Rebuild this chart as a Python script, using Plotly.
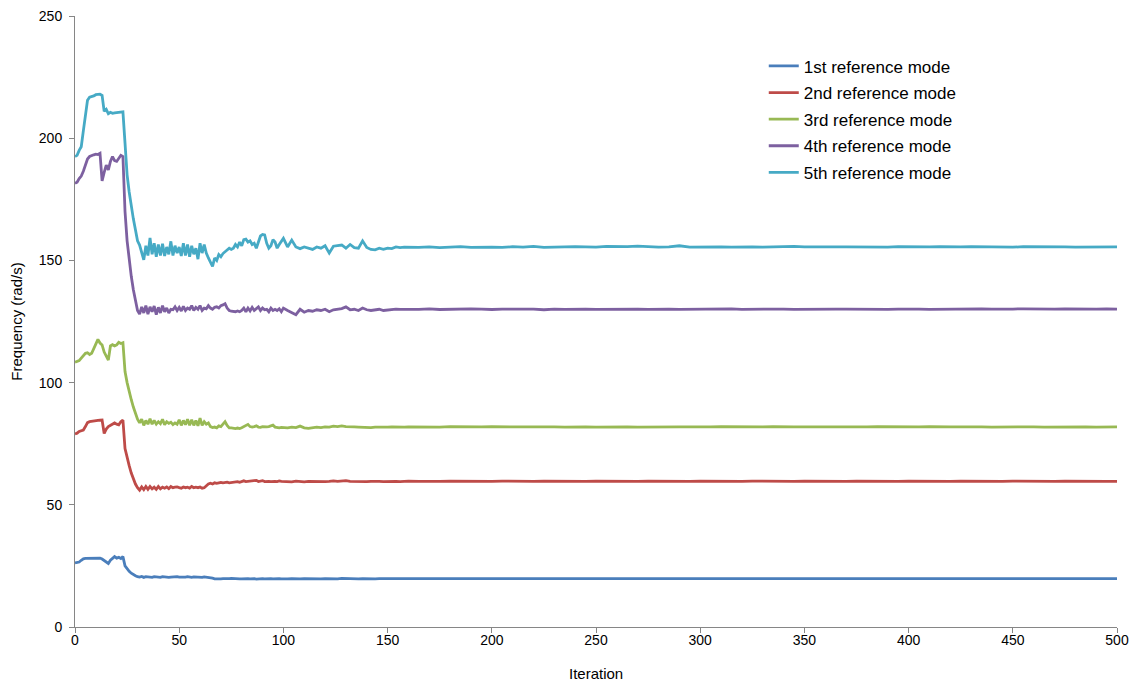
import plotly.graph_objects as go

ITER = list(range(0, 101)) + list(range(102, 161, 2)) + list(range(165, 501, 5))

MODE5 = [
    192.5, 193.0, 195.0, 196.5, 203.0, 210.0, 215.5, 216.8, 217.0, 217.3,
    217.8, 218.0, 218.0, 217.5, 211.0, 211.8, 210.0, 210.6, 210.2, 210.4,
    210.5, 210.3, 210.6, 210.8, 198.0, 185.0, 178.0, 172.0, 167.0, 162.5,
    158.0, 156.3, 153.5, 150.2, 156.0, 152.0, 159.2, 152.5, 157.0, 151.5,
    156.5, 152.0, 156.8, 151.8, 155.5, 152.5, 157.8, 152.0, 156.0, 153.0,
    155.5, 151.8, 157.0, 152.0, 156.5, 151.5, 156.0, 152.5, 155.0, 150.5,
    157.0, 153.0, 156.5, 153.0, 151.0, 149.0, 147.5, 151.0, 150.0, 152.4,
    151.5, 152.8, 153.5, 154.5, 155.0, 154.5, 155.0, 156.5, 155.5, 157.5,
    156.0, 158.5, 158.7, 157.5, 158.0, 156.5, 157.0, 155.0, 158.0, 160.0,
    160.6, 160.4, 157.0, 155.0, 156.0, 158.5, 157.5, 155.0, 156.5, 158.0,
    159.0,
    155.5, 158.3, 155.5, 154.8, 155.5, 155.0, 154.5, 155.5, 155.0, 156.0,
    153.0, 155.8, 156.0, 156.3, 155.0, 156.5, 155.2, 155.0, 158.0, 155.3,
    154.5, 154.3, 155.0, 154.5, 155.0, 154.8, 155.5, 155.2, 155.4, 155.3,
    155.3, 155.5, 155.2, 155.4, 155.6, 155.3, 155.5, 155.4, 155.3, 155.6,
    155.4, 155.7, 155.3, 155.5, 155.4, 155.6, 155.5, 155.4, 155.7, 155.5,
    155.6, 155.8, 155.5, 155.4, 155.5, 156.0, 155.4, 155.5, 155.3, 155.5,
    155.4, 155.6, 155.5, 155.4, 155.6, 155.5, 155.7, 155.5, 155.4, 155.6,
    155.5, 155.5, 155.4, 155.6, 155.5, 155.4, 155.6, 155.5, 155.4, 155.5,
    155.6, 155.4, 155.5, 155.6, 155.5, 155.3, 155.5, 155.4, 155.6, 155.5,
    155.4, 155.6, 155.5, 155.4, 155.5, 155.6, 155.4, 155.5,
]

MODE4 = [
    181.5, 182.0, 183.5, 184.5, 186.5, 189.5, 191.5, 192.5, 193.0, 193.2,
    193.5, 193.3, 193.8, 182.5, 186.0, 189.0, 187.0, 190.5, 192.5, 190.8,
    190.5, 192.0, 193.0, 192.5, 170.0, 158.0, 150.0, 143.5, 138.0, 133.0,
    129.5, 128.0, 131.0, 128.5, 131.5, 128.0, 131.0, 129.0, 131.3, 127.8,
    130.8, 128.5, 131.5, 129.0, 130.5, 128.5, 130.0, 129.8, 131.0, 129.5,
    130.8, 129.3, 131.2, 129.5, 130.5, 130.0, 131.5, 129.5, 130.8, 130.0,
    131.5, 129.5, 130.5, 130.2, 131.5, 130.5, 130.0, 130.8, 131.0, 130.5,
    131.5, 131.8, 132.3, 130.5, 129.5, 129.2, 129.0, 129.0, 129.3, 129.0,
    129.5, 130.5, 129.0, 130.5, 129.3, 130.8, 129.5, 130.3, 131.0, 129.5,
    130.5, 129.8, 130.0, 129.0, 130.5, 129.5, 130.0, 129.5, 130.2, 129.0,
    130.5,
    129.5, 128.5, 127.8, 130.0, 128.8, 129.5, 129.2, 129.8, 129.5, 130.0,
    129.0, 129.8, 130.0, 130.3, 131.0, 129.8, 130.0, 129.5, 130.5, 129.8,
    129.5, 129.6, 130.0, 129.5, 129.8, 130.0, 130.1, 130.0, 130.1, 130.0,
    130.0, 130.2, 129.9, 130.1, 130.0, 130.2, 130.1, 129.9, 130.1, 130.2,
    130.0, 130.1, 129.8, 130.1, 130.0, 130.2, 130.1, 130.0, 130.1, 130.2,
    130.0, 130.1, 130.0, 130.2, 130.1, 130.0, 130.1, 130.2, 130.0, 130.1,
    130.2, 130.0, 130.1, 130.0, 130.2, 130.1, 130.0, 130.1, 130.2, 130.0,
    130.1, 130.1, 130.0, 130.2, 130.1, 130.0, 130.1, 130.2, 130.1, 130.0,
    130.1, 130.2, 130.0, 130.1, 130.2, 130.1, 130.0, 130.1, 130.2, 130.1,
    130.0, 130.1, 130.2, 130.1, 130.0, 130.1, 130.2, 130.1,
]

MODE3 = [
    108.3, 108.6, 109.0, 110.0, 111.2, 112.0, 112.2, 111.5, 112.0, 114.0,
    116.0, 117.7, 116.2, 115.4, 112.5, 111.0, 109.2, 115.0, 115.5, 115.0,
    115.4, 116.5, 116.0, 116.3, 104.5, 100.0, 96.0, 93.0, 90.0, 87.5,
    85.0, 83.5, 85.0, 82.5, 84.5, 83.0, 85.2, 83.0, 84.5, 83.0,
    84.0, 83.2, 85.0, 82.8, 84.0, 83.3, 83.8, 82.8, 83.5, 83.0,
    84.8, 82.5, 84.5, 82.8, 85.0, 82.5, 84.8, 82.5, 84.5, 82.3,
    85.5, 82.5, 84.0, 83.0, 83.5, 82.0, 81.6, 81.8, 81.5, 82.3,
    82.0, 83.0, 84.0, 82.5, 81.5, 81.5, 81.3, 81.2, 81.4, 81.2,
    81.5, 82.0, 82.3, 82.9, 82.0, 81.8, 82.0, 82.3, 81.8, 81.7,
    82.0, 81.8, 81.9, 82.0, 82.3, 82.6, 81.8, 81.6, 81.5, 81.7,
    81.6,
    81.5, 81.8, 81.6, 82.2, 81.5, 81.3, 81.7, 81.8, 81.6, 81.9,
    81.8, 82.2, 82.0, 82.3, 82.0, 81.8, 81.9, 81.8, 81.7, 81.8,
    81.6, 81.8, 81.7, 81.9, 81.8, 81.9, 81.8, 81.9, 81.8, 81.9,
    81.8, 81.9, 81.8, 82.0, 81.9, 81.8, 81.9, 82.0, 81.8, 81.9,
    81.9, 82.0, 81.8, 81.9, 81.8, 82.0, 81.9, 81.8, 81.9, 82.0,
    81.9, 81.8, 81.9, 82.0, 81.8, 81.9, 81.9, 81.8, 81.9, 82.0,
    81.9, 81.8, 81.9, 81.9, 82.0, 81.8, 81.9, 81.9, 81.8, 82.0,
    81.9, 81.9, 81.8, 81.9, 82.0, 81.9, 81.8, 81.9, 81.9, 82.0,
    81.8, 81.9, 81.9, 82.0, 81.9, 81.8, 81.9, 81.9, 82.0, 81.9,
    81.8, 81.9, 81.9, 82.0, 81.9, 81.8, 81.9, 81.9,
]

MODE2 = [
    79.0, 79.3, 80.0, 80.3, 80.6, 82.0, 83.6, 84.0, 84.2, 84.3,
    84.4, 84.5, 84.6, 84.7, 79.2, 81.0, 82.0, 82.5, 83.2, 83.5,
    83.0, 82.7, 84.0, 84.7, 73.0, 69.0, 66.0, 63.0, 60.5, 58.5,
    57.0, 56.0, 57.3, 56.2, 57.5, 56.3, 57.5, 56.5, 57.2, 56.3,
    57.5, 56.5, 57.2, 56.8, 57.3, 56.6, 57.5, 57.0, 57.2, 57.3,
    57.0, 56.8, 57.3, 57.0, 57.2, 56.8, 57.5, 57.0, 57.2, 57.0,
    57.3, 56.8, 57.0, 57.8, 58.5, 58.8, 58.5, 59.0, 58.8, 59.0,
    59.2, 59.0, 59.1, 59.3, 59.0, 59.2, 59.4, 59.3, 59.5, 59.2,
    59.4, 59.8, 59.5, 59.6, 59.5, 59.8, 59.6, 60.0, 59.5, 59.7,
    59.9, 59.5, 59.7, 59.6, 59.5, 59.7, 59.6, 59.5, 59.8, 59.6,
    59.5,
    59.6, 59.4, 59.7, 59.5, 59.4, 59.6, 59.5, 59.7, 59.6, 59.5,
    59.6, 59.8, 59.6, 59.7, 59.9, 59.6, 59.5, 59.7, 59.6, 59.5,
    59.6, 59.7, 59.6, 59.5, 59.6, 59.7, 59.6, 59.5, 59.6, 59.7,
    59.6, 59.5, 59.6, 59.7, 59.6, 59.6, 59.5, 59.6, 59.7, 59.6,
    59.5, 59.6, 59.7, 59.6, 59.6, 59.5, 59.6, 59.7, 59.6, 59.6,
    59.5, 59.6, 59.7, 59.6, 59.6, 59.5, 59.6, 59.7, 59.6, 59.6,
    59.5, 59.6, 59.7, 59.6, 59.6, 59.5, 59.6, 59.7, 59.6, 59.6,
    59.5, 59.6, 59.7, 59.6, 59.6, 59.5, 59.6, 59.7, 59.6, 59.6,
    59.5, 59.6, 59.7, 59.6, 59.6, 59.5, 59.6, 59.7, 59.6, 59.6,
    59.5, 59.6, 59.7, 59.6, 59.6, 59.5, 59.6, 59.6,
]

MODE1 = [
    26.2, 26.3, 26.6, 27.3, 27.9, 28.1, 28.1, 28.2, 28.2, 28.3,
    28.2, 28.1, 28.2, 27.8, 27.2, 26.6, 26.0, 27.3, 28.0, 28.8,
    28.2, 28.5, 28.0, 28.8, 25.0, 23.8, 22.8, 22.0, 21.4, 21.0,
    20.6, 20.4, 20.7, 20.3, 20.6, 20.4, 20.5, 20.3, 20.6, 20.4,
    20.5, 20.3, 20.6, 20.4, 20.5, 20.3, 20.4, 20.5, 20.3, 20.6,
    20.4, 20.3, 20.5, 20.4, 20.6, 20.4, 20.3, 20.5, 20.4, 20.5,
    20.4, 20.3, 20.5, 20.4, 20.4, 20.2, 20.0, 19.7, 19.6, 19.6,
    19.7, 19.8, 19.7, 19.6, 19.8, 19.9, 19.8, 19.6, 19.6, 19.7,
    19.7, 19.8, 19.7, 19.8, 19.7, 19.8, 19.8, 19.6, 19.7, 19.9,
    19.8, 19.7, 19.8, 19.7, 19.8, 19.7, 19.8, 19.7, 19.8, 19.7,
    19.8,
    19.7, 19.8, 19.6, 19.7, 19.8, 19.7, 19.6, 19.8, 19.7, 19.8,
    19.7, 19.8, 19.7, 19.9, 19.8, 19.7, 19.8, 19.7, 19.8, 19.7,
    19.8, 19.7, 19.8, 19.8, 19.7, 19.8, 19.7, 19.8, 19.8, 19.7,
    19.8, 19.8, 19.7, 19.8, 19.8, 19.7, 19.8, 19.8, 19.7, 19.8,
    19.8, 19.7, 19.8, 19.8, 19.7, 19.8, 19.8, 19.7, 19.8, 19.8,
    19.7, 19.8, 19.8, 19.7, 19.8, 19.8, 19.7, 19.8, 19.8, 19.7,
    19.8, 19.8, 19.7, 19.8, 19.8, 19.7, 19.8, 19.8, 19.7, 19.8,
    19.8, 19.7, 19.8, 19.8, 19.7, 19.8, 19.8, 19.7, 19.8, 19.8,
    19.7, 19.8, 19.8, 19.7, 19.8, 19.8, 19.7, 19.8, 19.8, 19.7,
    19.8, 19.8, 19.7, 19.8, 19.8, 19.7, 19.8, 19.8,
]

NAMES = ["1st reference mode", "2nd reference mode", "3rd reference mode",
         "4th reference mode", "5th reference mode"]
COLORS = ["#4A7EBB", "#BE4B48", "#98B954", "#7D60A0", "#46AAC5"]
SERIES = [MODE1, MODE2, MODE3, MODE4, MODE5]

for s in SERIES:
    assert len(s) == len(ITER), (len(s), len(ITER))

fig = go.Figure()
for name, color, ys in zip(NAMES, COLORS, SERIES):
    fig.add_trace(go.Scatter(
        x=ITER, y=ys, mode="lines", name=name, legendgroup=name,
        line=dict(color=color, width=2.8),
    ))

axis_common = dict(
    showgrid=False, zeroline=False, showline=True, linecolor="#868686",
    linewidth=1, ticks="outside", ticklen=5, tickcolor="#868686",
    automargin=False, ticklabeloverflow="allow",
    tickfont=dict(family="Liberation Sans, Arial", size=14, color="#000000"),
)

# page body adds an 8px margin around the figure
fig.update_layout(
    width=1121, height=675,
    margin=dict(l=67, r=12, t=8, b=56),
    paper_bgcolor="white", plot_bgcolor="white",
    font=dict(family="Liberation Sans, Arial", size=14, color="#000000"),
    xaxis=dict(range=[0, 500], tick0=0, dtick=50, ticklabelstandoff=-5,
               **axis_common),
    yaxis=dict(range=[0, 250], tick0=0, dtick=50, ticklabelstandoff=4,
               title=dict(text="Frequency (rad/s)", standoff=14,
                          font=dict(size=15)), **axis_common),
    legend=dict(x=0.661, y=0.947, xanchor="left", yanchor="top",
                font=dict(size=17), itemwidth=30, tracegroupgap=1.5,
                bgcolor="rgba(0,0,0,0)"),
    showlegend=True,
    annotations=[dict(text="Iteration", xref="paper", yref="paper",
                      x=0.5, y=-0.0753, xanchor="center", yanchor="middle",
                      showarrow=False, font=dict(size=15))],
)

fig.write_html("out.html")
